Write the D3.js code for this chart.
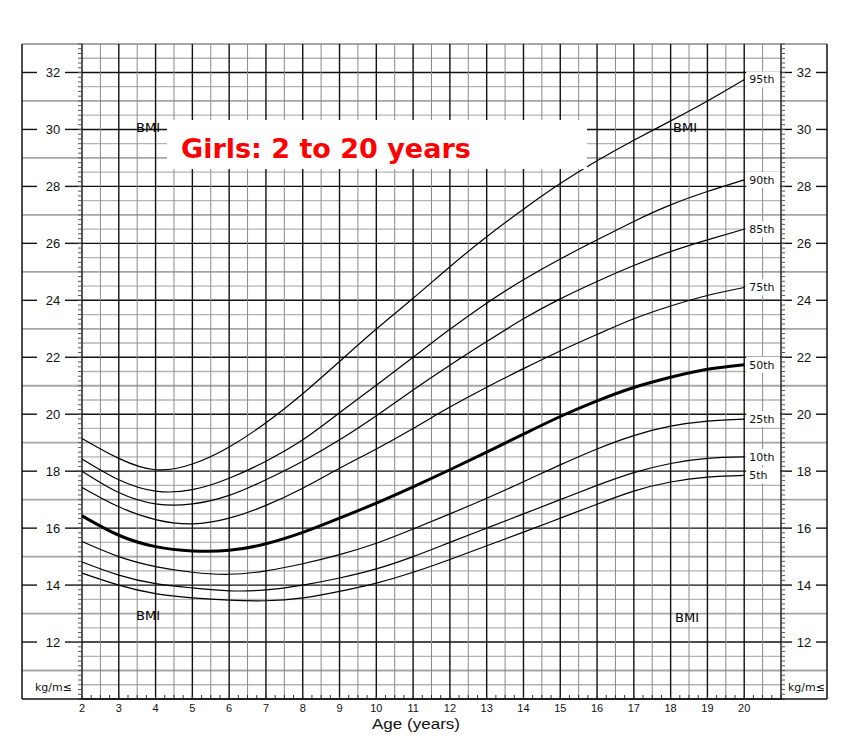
<!DOCTYPE html>
<html>
<head>
<meta charset="utf-8">
<script src="https://cdn.jsdelivr.net/npm/d3@7"></script>
<style>
  html, body { margin: 0; padding: 0; background: #fff; }
  svg { display: block; }
</style>
</head>
<body>
<svg id="chart" width="849" height="737"></svg>
<script>
// ---------- data ----------
const ages = [2, 3, 4, 5, 6, 7, 8, 9, 10, 11, 12, 13, 14, 15, 16, 17, 18, 19, 20];
const p95 = [19.15, 18.45, 18.05, 18.25, 18.85, 19.7, 20.72, 21.85, 22.99, 24.07, 25.18, 26.23, 27.2, 28.1, 28.9, 29.62, 30.3, 31.0, 31.75];
const p90 = [18.43, 17.7, 17.3, 17.35, 17.75, 18.35, 19.1, 20.05, 21.02, 22.0, 22.98, 23.9, 24.72, 25.45, 26.12, 26.77, 27.35, 27.82, 28.23];
const p85 = [18.0, 17.25, 16.85, 16.85, 17.15, 17.7, 18.35, 19.1, 19.95, 20.85, 21.72, 22.55, 23.35, 24.05, 24.66, 25.22, 25.71, 26.12, 26.5];
const p75 = [17.43, 16.75, 16.3, 16.15, 16.35, 16.8, 17.4, 18.1, 18.78, 19.5, 20.25, 20.95, 21.6, 22.22, 22.8, 23.35, 23.8, 24.17, 24.45];
const p50 = [16.43, 15.75, 15.35, 15.2, 15.22, 15.45, 15.85, 16.35, 16.88, 17.45, 18.05, 18.67, 19.3, 19.92, 20.47, 20.94, 21.3, 21.58, 21.74];
const p25 = [15.53, 15.0, 14.65, 14.45, 14.38, 14.5, 14.75, 15.07, 15.47, 15.97, 16.5, 17.05, 17.63, 18.22, 18.78, 19.25, 19.58, 19.76, 19.83];
const p10 = [14.81, 14.35, 14.05, 13.9, 13.8, 13.83, 14.0, 14.25, 14.57, 15.0, 15.5, 16.0, 16.5, 17.0, 17.5, 17.95, 18.27, 18.45, 18.5];
const p5  = [14.42, 14.0, 13.7, 13.55, 13.47, 13.45, 13.55, 13.78, 14.07, 14.45, 14.9, 15.38, 15.86, 16.35, 16.84, 17.3, 17.62, 17.79, 17.85];
const seriesNames = ["95th", "90th", "85th", "75th", "50th", "25th", "10th", "5th"];
const seriesValues = [p95, p90, p85, p75, p50, p25, p10, p5];
const yTickLabels = [12, 14, 16, 18, 20, 22, 24, 26, 28, 30, 32];
const xTickLabels = ages;
const titleText = "Girls: 2 to 20 years";
const xAxisTitle = "Age (years)";
const unitText = "kg/m≤";
const bmiText = "BMI";

// ---------- layout ----------
const svg = d3.select("#chart");
const frame = { left: 22, right: 827, top: 44, bottom: 699 };
const x = d3.scaleLinear().domain([2, 21]).range([82, 781]);
const y = d3.scaleLinear().domain([10, 33]).range([699, 44]);
const plotL = x(2), plotR = x(21);

const grid = svg.append("g");

// horizontal grid lines every 0.5 BMI
d3.range(10, 33.01, 0.5).forEach(b => {
  const yy = y(b);
  if (Number.isInteger(b) && b % 2 === 0) {
    grid.append("line").attr("x1", plotL).attr("x2", plotR).attr("y1", yy).attr("y2", yy)
      .attr("stroke", "#111").attr("stroke-width", 1.4);
    if (yTickLabels.includes(b)) {
      [[frame.left, 37], [65, plotL], [plotR, 792], [816, frame.right]].forEach(([a, c]) => {
        grid.append("line").attr("x1", a).attr("x2", c).attr("y1", yy).attr("y2", yy)
          .attr("stroke", "#111").attr("stroke-width", 1.4);
      });
    }
  } else if (Number.isInteger(b)) {
    grid.append("line").attr("x1", frame.left).attr("x2", frame.right).attr("y1", yy).attr("y2", yy)
      .attr("stroke", "#a6a6a6").attr("stroke-width", 1.8);
  } else {
    grid.append("line").attr("x1", plotL).attr("x2", plotR).attr("y1", yy).attr("y2", yy)
      .attr("stroke", "#b4b4b4").attr("stroke-width", 1.3);
  }
});

// vertical grid lines every half year
d3.range(2, 21.01, 0.5).forEach(a => {
  const xx = x(a);
  const major = Number.isInteger(a);
  grid.append("line").attr("x1", xx).attr("x2", xx).attr("y1", frame.top).attr("y2", frame.bottom)
    .attr("stroke", major ? "#111" : "#8a8a8a").attr("stroke-width", major ? 1.4 : 1);
});

// minor ticks on the BMI axes (6 per unit)
d3.range(10, 33.001, 1 / 6).forEach(b => {
  const yy = y(b);
  grid.append("line").attr("x1", plotL - 4).attr("x2", plotL).attr("y1", yy).attr("y2", yy)
    .attr("stroke", "#555").attr("stroke-width", 1);
  grid.append("line").attr("x1", plotR).attr("x2", plotR + 4).attr("y1", yy).attr("y2", yy)
    .attr("stroke", "#555").attr("stroke-width", 1);
});
// quarter-year ticks along the bottom
d3.range(2, 21.001, 0.25).forEach(a => {
  grid.append("line").attr("x1", x(a)).attr("x2", x(a)).attr("y1", frame.bottom).attr("y2", frame.bottom - 4)
    .attr("stroke", "#333").attr("stroke-width", 1);
});

// frame
svg.append("line").attr("x1", frame.left).attr("x2", frame.left).attr("y1", frame.top).attr("y2", frame.bottom)
  .attr("stroke", "#111").attr("stroke-width", 1.5);
svg.append("line").attr("x1", frame.right).attr("x2", frame.right).attr("y1", frame.top).attr("y2", frame.bottom)
  .attr("stroke", "#111").attr("stroke-width", 1.5);
svg.append("line").attr("x1", frame.left).attr("x2", frame.right).attr("y1", frame.bottom).attr("y2", frame.bottom)
  .attr("stroke", "#111").attr("stroke-width", 1.5);

// percentile curves
const line = d3.line().x((d, i) => x(ages[i])).y(d => y(d)).curve(d3.curveNatural);
seriesValues.forEach((vals, k) => {
  svg.append("path").attr("d", line(vals)).attr("fill", "none")
    .attr("stroke", "#000").attr("stroke-width", seriesNames[k] === "50th" ? 3 : 1.2);
});

// percentile labels with white background
seriesValues.forEach((vals, k) => {
  const yy = y(vals[vals.length - 1]);
  svg.append("rect").attr("x", x(20) + 2).attr("y", yy - 8).attr("width", plotR - x(20) - 3).attr("height", 16)
    .attr("fill", "#fff");
  svg.append("text").attr("x", x(20) + 5).attr("y", yy).attr("dy", "0.35em")
    .attr("font-family", "DejaVu Sans, Verdana, sans-serif").attr("font-size", 11)
    .attr("fill", "#111").text(seriesNames[k]);
});

// y tick labels both sides
yTickLabels.forEach(b => {
  [53, 804].forEach(cx => {
    svg.append("text").attr("x", cx).attr("y", y(b)).attr("dy", "0.36em").attr("text-anchor", "middle")
      .attr("font-family", "Liberation Sans, Arial, sans-serif").attr("font-size", 13)
      .attr("fill", "#111").text(b);
  });
});

// x tick labels
xTickLabels.forEach(a => {
  svg.append("text").attr("x", x(a)).attr("y", 711.5).attr("text-anchor", "middle")
    .attr("font-family", "Liberation Sans, Arial, sans-serif").attr("font-size", 11)
    .attr("fill", "#111").text(a);
});
svg.append("text").attr("x", 416).attr("y", 728.5).attr("text-anchor", "middle")
  .attr("font-family", "Liberation Sans, Arial, sans-serif").attr("font-size", 14)
  .attr("textLength", 88).attr("lengthAdjust", "spacingAndGlyphs")
  .attr("fill", "#111").text(xAxisTitle);

// unit labels
[[35, 687], [788, 687]].forEach(([lx, ly]) => {
  svg.append("text").attr("x", lx).attr("y", ly).attr("dy", "0.35em")
    .attr("font-family", "DejaVu Sans, Verdana, sans-serif").attr("font-size", 11)
    .attr("fill", "#111").text(unitText);
});

// BMI labels
[[148, 127], [685, 127], [148, 615], [687, 617]].forEach(([bx, by]) => {
  svg.append("text").attr("x", bx).attr("y", by).attr("dy", "0.36em").attr("text-anchor", "middle")
    .attr("font-family", "DejaVu Sans, Verdana, sans-serif").attr("font-size", 13)
    .attr("fill", "#000").text(bmiText);
});

// title box
svg.append("rect").attr("x", 167).attr("y", 120).attr("width", 420).attr("height", 49).attr("fill", "#fff");
svg.append("text").attr("x", 181).attr("y", 158)
  .attr("font-family", "DejaVu Sans, Verdana, sans-serif").attr("font-weight", "bold").attr("font-size", 27)
  .attr("fill", "#ff0000").text(titleText);
</script>
</body>
</html>
